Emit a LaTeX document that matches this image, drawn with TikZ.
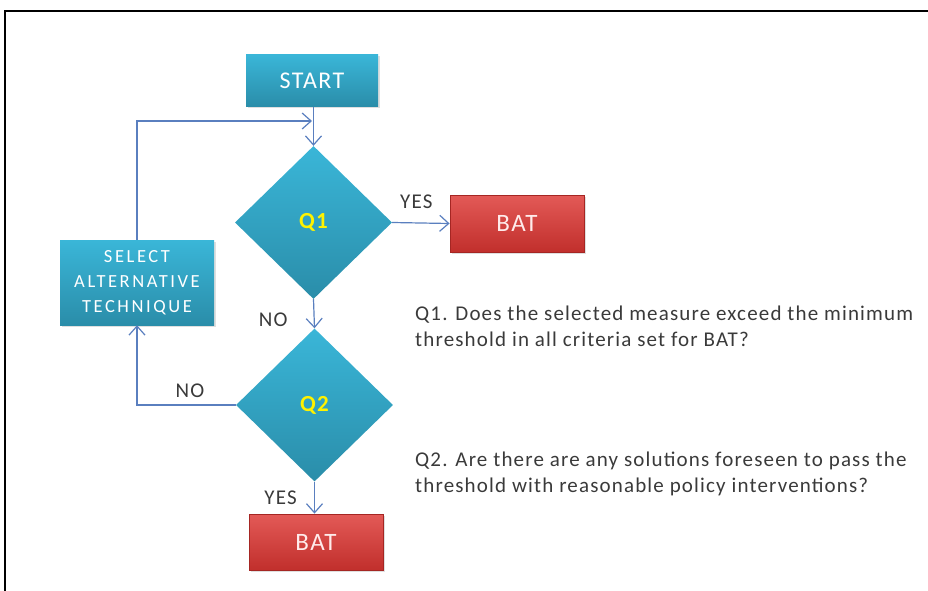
\documentclass[tikz,border=0pt]{standalone}
\usepackage{fontspec}
\setmainfont{Carlito}
\newfontfamily\notefont[LetterSpace=5.5]{Carlito}
\newfontfamily\boxfont[LetterSpace=6]{Carlito}
\newfontfamily\altfont[LetterSpace=14]{Carlito}
\usetikzlibrary{arrows.meta,shapes.geometric,shadows}
\definecolor{tealtop}{HTML}{3AB6D8}
\definecolor{tealbot}{HTML}{2A8DA9}
\definecolor{redtop}{HTML}{E35A57}
\definecolor{redbot}{HTML}{C12F2C}
\definecolor{rededge}{HTML}{A52623}
\definecolor{flowline}{HTML}{5A7FBF}
\definecolor{bodytext}{HTML}{3A3A3A}
\tikzset{
  tealbox/.style={rectangle, inner sep=0pt, top color=tealtop, bottom color=tealbot,
    draw=none, text=white, font=\boxfont\fontsize{24}{28}\selectfont,
    drop shadow={shadow xshift=2pt, shadow yshift=-2pt, opacity=0.25}},
  redbox/.style={rectangle, inner sep=0pt, top color=redtop, bottom color=redbot,
    draw=rededge, line width=0.8pt, text=white!92!red, font=\boxfont\fontsize{25}{28}\selectfont,
    minimum width=134pt, minimum height=57pt,
    drop shadow={shadow xshift=2pt, shadow yshift=-2pt, opacity=0.25}},
  decision/.style={diamond, aspect=1.04, inner sep=0pt, top color=tealtop, bottom color=tealbot,
    draw=none, text=yellow, font=\boxfont\fontsize{23}{26}\selectfont\bfseries,
    minimum width=157pt, minimum height=153pt},
  flow/.style={draw=flowline, line width=1.2pt, -{Straight Barb[length=9pt,width=16pt,line width=1.2pt]}},
  lbl/.style={text=bodytext, font=\boxfont\fontsize{21}{24}\selectfont, inner sep=0pt},
  note/.style={text=bodytext, font=\notefont\fontsize{21}{25.5}\selectfont, inner sep=0pt, align=left},
}
\begin{document}
\begin{tikzpicture}[x=1pt,y=-1pt]
\useasboundingbox (0,0) rectangle (928,591);
% outer frame
\draw[line width=2pt] (5,591) -- (5,11) -- (928,11);

% boxes and decisions
\node[tealbox, minimum width=132pt, minimum height=52pt] (start) at (312,80.5) {START};
\node[decision] (q1) at (313.5,222.5) {Q1};
\node[redbox] (bat1) at (517,223.5) {BAT};
\node[decision] (q2) at (314.5,405) {Q2};
\node[redbox, minimum height=56pt] (bat2) at (316,542) {BAT};
\node[tealbox, minimum width=154pt, minimum height=85pt, align=center,
      font=\altfont\fontsize{18.5}{25}\selectfont] (alt) at (137,282.5)
      {SELECT\\ALTERNATIVE\\TECHNIQUE};

% feedback corner
\coordinate (loopTop) at (alt.north |- 0,121);
\coordinate (loopIn) at (312,121);
\coordinate (loopBot) at (alt.south |- q2.west);

% connectors
\draw[flow] (start.south -| q1.north) -- (q1.north);
\draw[flow] (alt.north) -- (loopTop) -- (loopIn);
\draw[flow] (q1.east) -- (bat1.west) node[lbl, pos=0.42, above=14pt] {YES};
\draw[flow] (q1.south) -- (q2.north) node[lbl, pos=0.7, left=26pt] {NO};
\draw[flow] (q2.west) -- (loopBot) -- (alt.south);
\draw[flow] (q2.south) -- (bat2.north -| q2.south) node[lbl, midway, left=17pt] {YES};
\node[lbl] (noq2) at (190,391) {NO};

% notes
\node[note, anchor=base west] (n1) at (415,346)
  {Q1. Does the selected measure exceed the minimum\\threshold in all criteria set for BAT?};
\node[note, anchor=base west] (n2) at (415,492)
  {Q2. Are there are any solutions foreseen to pass the\\threshold with reasonable policy interventions?};
\end{tikzpicture}
\end{document}
